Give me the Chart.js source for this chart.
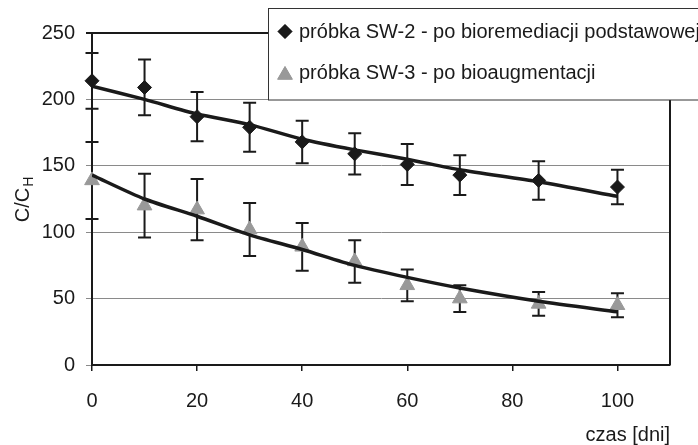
<!DOCTYPE html>
<html>
<head>
<meta charset="utf-8">
<script src="https://cdn.jsdelivr.net/npm/chart.js@4.4.1/dist/chart.umd.min.js"></script>
<style>
  html, body { margin: 0; padding: 0; background: #fff; }
  #wrap { width: 698px; height: 445px; }
</style>
</head>
<body>
<div id="wrap"><canvas id="wykres" width="698" height="445"></canvas></div>
<script>
// dane
const dni = [0, 10, 20, 30, 40, 50, 60, 70, 85, 100];
const sw2 = [214, 209, 187, 179, 168, 159, 151, 143, 139, 134];
const sw2Err = [21, 21, 18.5, 18.5, 16, 15.5, 15.5, 15, 14.5, 13];
const sw3 = [139, 120, 117, 102, 89, 78, 60, 50, 46, 45];
const sw3Err = [29, 24, 23, 20, 18, 16, 12, 10, 9, 9];
// linie trendu
const sw2Trend = [210, 200, 189, 181, 170, 162, 155, 147, 138, 127];
const sw3Trend = [143, 125, 112, 98, 87, 75, 66, 58, 48, 40];
const xTicks = [0, 20, 40, 60, 80, 100];
const legendLabels = ["próbka SW-2 - po bioremediacji podstawowej", "próbka SW-3 - po bioaugmentacji"];

const FONT = '"Liberation Sans", Arial, Helvetica, sans-serif';
const DARK = '#1a1a1a';
const GRID = '#8a8a8a';
const TRI = '#999999';

const pts = (xs, ys) => xs.map((x, i) => ({ x, y: ys[i] }));

// slupki bledow - rysowane pod punktami
const errorBars = {
  id: 'errorBars',
  beforeDatasetsDraw(chart) {
    const { ctx, scales: { x, y } } = chart;
    const sets = [[sw2, sw2Err], [sw3, sw3Err]];
    ctx.save();
    ctx.strokeStyle = DARK;
    ctx.lineWidth = 2;
    sets.forEach(([vals, errs]) => {
      dni.forEach((d, i) => {
        const px = x.getPixelForValue(d);
        const top = y.getPixelForValue(vals[i] + errs[i]);
        const bot = y.getPixelForValue(vals[i] - errs[i]);
        ctx.beginPath();
        ctx.moveTo(px, top); ctx.lineTo(px, bot);
        ctx.moveTo(px - 6.5, top); ctx.lineTo(px + 6.5, top);
        ctx.moveTo(px - 6.5, bot); ctx.lineTo(px + 6.5, bot);
        ctx.stroke();
      });
    });
    ctx.restore();
  }
};

// prawa krawedz + legenda nachodzaca na wykres
const ramkaLegenda = {
  id: 'ramkaLegenda',
  afterDraw(chart) {
    const { ctx, chartArea: a } = chart;
    ctx.save();
    ctx.strokeStyle = DARK;
    ctx.lineWidth = 2;
    ctx.beginPath();
    ctx.moveTo(a.right, a.top - 1);
    ctx.lineTo(a.right, a.bottom);
    ctx.stroke();

    ctx.fillStyle = '#fff';
    ctx.fillRect(268.5, 8.5, 440, 91.5);
    ctx.strokeStyle = '#333';
    ctx.lineWidth = 1;
    ctx.strokeRect(268.5, 8.5, 440, 91.5);

    ctx.fillStyle = DARK;
    ctx.strokeStyle = DARK;
    Chart.helpers.drawPoint(ctx, { pointStyle: 'rectRot', radius: 7, rotation: 0, borderWidth: 1 }, 285, 31.5);
    ctx.fill();
    ctx.fillStyle = TRI;
    ctx.strokeStyle = TRI;
    Chart.helpers.drawPoint(ctx, { pointStyle: 'triangle', radius: 8.5, rotation: 0, borderWidth: 1 }, 285, 75);
    ctx.fill();

    ctx.fillStyle = DARK;
    ctx.font = '20px ' + FONT;
    ctx.textBaseline = 'middle';
    ctx.textAlign = 'left';
    ctx.fillText(legendLabels[0], 299, 32);
    ctx.fillText(legendLabels[1], 299, 73);

    // tytul osi Y z indeksem dolnym
    ctx.translate(25, 200);
    ctx.rotate(-Math.PI / 2);
    ctx.textBaseline = 'alphabetic';
    const main = 'C/C';
    ctx.font = '20px ' + FONT;
    const w1 = ctx.measureText(main).width;
    ctx.font = '14px ' + FONT;
    const w2 = ctx.measureText('H').width;
    const start = -(w1 + w2) / 2;
    ctx.font = '20px ' + FONT;
    ctx.fillText(main, start, 4);
    ctx.font = '14px ' + FONT;
    ctx.fillText('H', start + w1 + 1, 8);
    ctx.restore();
  }
};

new Chart(document.getElementById('wykres'), {
  type: 'scatter',
  data: {
    datasets: [
      {
        label: 'trend SW-2',
        data: pts(dni, sw2Trend),
        showLine: true,
        borderColor: DARK,
        borderWidth: 3.5,
        pointRadius: 0,
        tension: 0.25,
        order: 0
      },
      {
        label: 'trend SW-3',
        data: pts(dni, sw3Trend),
        showLine: true,
        borderColor: DARK,
        borderWidth: 3.5,
        pointRadius: 0,
        tension: 0.25,
        order: 0
      },
      {
        label: legendLabels[0],
        data: pts(dni, sw2),
        pointStyle: 'rectRot',
        pointRadius: 7,
        backgroundColor: DARK,
        borderColor: DARK,
        borderWidth: 1,
        clip: false,
        order: 1
      },
      {
        label: legendLabels[1],
        data: pts(dni, sw3),
        pointStyle: 'triangle',
        pointRadius: 8.5,
        backgroundColor: TRI,
        borderColor: TRI,
        borderWidth: 1,
        clip: false,
        order: 1
      }
    ]
  },
  options: {
    responsive: false,
    devicePixelRatio: 1,
    animation: false,
    layout: { padding: { top: 33, right: 28, left: 0, bottom: 0 } },
    plugins: { legend: { display: false }, tooltip: { enabled: false } },
    scales: {
      x: {
        type: 'linear',
        min: 0,
        max: 110,
        afterBuildTicks: s => { s.ticks = xTicks.map(v => ({ value: v })); },
        afterFit: s => { s.height = 80; },
        grid: { drawOnChartArea: false, drawTicks: true, tickLength: 6, color: DARK, tickColor: DARK, lineWidth: 1.5 },
        border: { display: true, color: DARK, width: 2 },
        ticks: { color: DARK, font: { family: FONT, size: 20 }, padding: 18, maxRotation: 0 },
        title: {
          display: true,
          text: 'czas [dni]',
          align: 'end',
          color: DARK,
          font: { family: FONT, size: 20, lineHeight: 1 },
          padding: { top: 0, bottom: 0 }
        }
      },
      y: {
        min: 0,
        max: 250,
        afterFit: s => { s.width = 92; },
        grid: {
          tickLength: 6,
          color: c => c.tick && c.tick.value === 250 ? DARK : GRID,
          tickColor: c => c.tick && c.tick.value === 250 ? DARK : GRID,
          lineWidth: c => c.tick && c.tick.value === 250 ? 2 : 1
        },
        border: { display: true, color: DARK, width: 2 },
        ticks: { stepSize: 50, color: DARK, font: { family: FONT, size: 20 }, padding: 11 }
      }
    }
  },
  plugins: [errorBars, ramkaLegenda]
});
</script>
</body>
</html>
